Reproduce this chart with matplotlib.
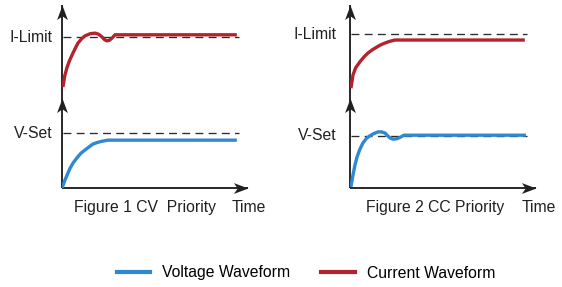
import matplotlib.pyplot as plt
from matplotlib.path import Path

plt.rcParams['font.family'] = ['Liberation Sans', 'DejaVu Sans']

# time values (arbitrary units, axis runs 0..10) and levels (set level ~ 1)
# Figure 1: CV priority
cv_i_t = [0.05, 0.15, 0.27, 0.4, 0.53, 0.7, 0.85, 1.05, 1.22, 1.5, 1.76, 1.95, 2.13, 2.27, 2.39, 2.52, 2.66, 2.82, 9.3]
cv_i_v = [0.09, 0.3, 0.45, 0.57, 0.67, 0.79, 0.89, 0.97, 1.02, 1.06, 1.07, 1.05, 1.0, 0.95, 0.93, 0.94, 0.98, 1.04, 1.04]
cv_v_t = [0.0, 0.16, 0.3, 0.43, 0.6, 0.8, 1.0, 1.22, 1.45, 1.65, 1.9, 2.13, 2.45, 9.3]
cv_v_v = [0.0, 0.145, 0.26, 0.36, 0.46, 0.55, 0.63, 0.69, 0.75, 0.8, 0.83, 0.85, 0.87, 0.87]

# Figure 2: CC priority
cc_i_t = [0.05, 0.16, 0.3, 0.53, 0.75, 0.96, 1.2, 1.44, 1.65, 1.86, 2.1, 2.39, 9.3]
cc_i_v = [0.07, 0.31, 0.44, 0.55, 0.64, 0.71, 0.77, 0.82, 0.86, 0.89, 0.92, 0.945, 0.945]
cc_v_t = [0.05, 0.16, 0.26, 0.37, 0.52, 0.69, 0.87, 1.06, 1.27, 1.49, 1.68, 1.86, 2.0, 2.13, 2.26, 2.39, 2.53, 2.66, 2.87, 9.36]
cc_v_v = [0.02, 0.24, 0.41, 0.56, 0.7, 0.82, 0.9, 0.95, 0.99, 1.02, 1.02, 1.0, 0.95, 0.91, 0.89, 0.89, 0.9, 0.92, 0.96, 0.96]

i_limit = [1.0, 1.05]
v_set = [1.0, 0.95]
captions = ['Figure 1 CV  Priority', 'Figure 2 CC Priority']
panels = [(cv_i_t, cv_i_v, cv_v_t, cv_v_v), (cc_i_t, cc_i_v, cc_v_t, cc_v_v)]

blue = '#2f88d2'
red = '#b3232c'
ink = '#231f20'
W, H = 562, 287
fig = plt.figure(figsize=(W / 100, H / 100), dpi=100)

origin_x = [62, 350]
label_off = [0.48, 0.7]
time_x = [9.04, 9.15]
cap_x = [4.39, 4.52]
px_x = 18.8   # pixels per time unit
px_y = 55.0   # pixels per level unit
fs = 11.3

# stealth arrow heads, tip at the marker origin
codes = [Path.MOVETO, Path.LINETO, Path.LINETO, Path.LINETO, Path.CLOSEPOLY]
head_right = Path([(0, 0), (-1, 0.37), (-0.74, 0), (-1, -0.37), (0, 0)], codes)
head_up = Path([(0, 0), (0.37, -1), (0, -0.74), (-0.37, -1), (0, 0)], codes)


def axis_arrow(ax, x, y, head):
    ax.plot(x, y, color=ink, lw=1.35, clip_on=False, solid_capstyle='butt')
    ax.plot(x[1], y[1], marker=head, ms=21, color=ink, mew=0, clip_on=False)


for k, (it, iv, vt, vv) in enumerate(panels):
    x0 = origin_x[k]
    # lower axes: voltage, baseline at y=188 px
    axv = fig.add_axes([x0 / W, (H - 188) / H, 10 * px_x / W, 1.65 * px_y / H])
    axv.set_xlim(0, 10)
    axv.set_ylim(0, 1.65)
    axv.axis('off')
    # upper axes: current, baseline at y=92 px
    axi = fig.add_axes([x0 / W, (H - 97.5) / H, 10 * px_x / W, 1.7 * px_y / H])
    axi.set_xlim(0, 10)
    axi.set_ylim(-0.1, 1.6)
    axi.axis('off')

    axv.plot([0.05, 9.4], [v_set[k]] * 2, color='#2b2b2b', lw=0.95, ls=(0, (6, 4)))
    axi.plot([0.05, 9.4], [i_limit[k]] * 2, color='#2b2b2b', lw=0.95, ls=(0, (6, 4)))
    axv.plot(vt, vv, color=blue, lw=2.4, solid_capstyle='butt', zorder=3)
    axi.plot(it, iv, color=red, lw=2.4, solid_capstyle='butt', zorder=3)

    axis_arrow(axv, [0, 9.9], [0, 0], head_right)
    axis_arrow(axv, [0, 0], [0, 1.64], head_up)
    axis_arrow(axi, [0, 0], [-0.1, 1.59], head_up)

    axv.text(-label_off[k], v_set[k], 'V-Set', ha='right', va='center', fontsize=fs, color=ink)
    axi.text(-label_off[k], i_limit[k], 'I-Limit', ha='right', va='center', fontsize=fs, color=ink)
    axv.text(cap_x[k], -0.35, captions[k], ha='center', va='center', fontsize=fs, color=ink)
    axv.text(time_x[k], -0.35, 'Time', ha='left', va='center', fontsize=fs, color=ink)

handles = [plt.Line2D([], [], color=blue, lw=3), plt.Line2D([], [], color=red, lw=3)]
fig.legend(handles, ['Voltage Waveform', 'Current Waveform'], loc='center',
           bbox_to_anchor=(306 / W, 14 / H), ncol=2, frameon=False, fontsize=fs,
           handlelength=2.15, handletextpad=0.76, columnspacing=1.96)

fig.savefig('out.png', dpi=100)
